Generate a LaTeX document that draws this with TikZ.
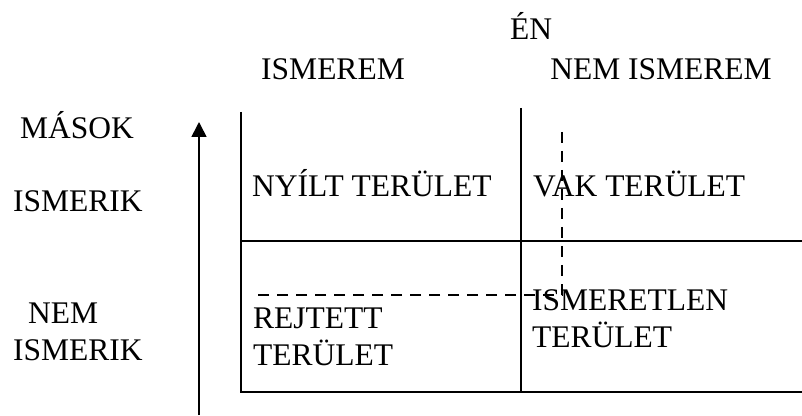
\documentclass[tikz,border=0pt]{standalone}
\usepackage{fontspec}
\setmainfont{Liberation Serif}
\usetikzlibrary{positioning,arrows.meta}

\tikzset{
	lbl/.style={inner sep=0pt,anchor=base west,font=\fontsize{31.5}{37}\selectfont},
	clbl/.style={lbl,anchor=base},
	gridline/.style={line width=2.2pt},
	dashline/.style={line width=1.6pt,dash pattern=on 11pt off 8pt},
}

\begin{document}
\begin{tikzpicture}[x=1pt,y=1pt]
		\useasboundingbox (0,0) rectangle (802,415);
		
		\coordinate (tl) at (241,303);
		\coordinate (tm) at (521,307);
		\coordinate (ml) at (241,174);
		\coordinate (mr) at (802,174);
		\coordinate (bl) at (241,23);
		\coordinate (bm) at (521,23);
		\coordinate (br) at (802,23);
		
		\draw[gridline] (tl) -- (bl) -- (br);
		\draw[gridline] (tm) -- (bm);
		\draw[gridline] (ml) -- (mr);
		
		\coordinate (dtop) at (562,283);
		\coordinate (dcorner) at (562,120);
		\coordinate (dleft) at (253,120);
		\draw[dashline] (dtop) -- (dcorner) -- (dleft);
		
		\coordinate (arrbot) at (199,0);
		\coordinate (arrtop) at (199,293);
		\draw[line width=1.6pt,-{Triangle[length=15pt,width=15pt]}] (arrbot) -- (arrtop);
		
		\node[clbl] (en) at (531,375) {ÉN};
		\node[clbl] (ism) at (333,335) {ISMEREM};
		\node[clbl] (nemism) at (661,335) {NEM ISMEREM};
		
		\node[lbl] (masok) at (20,276) {MÁSOK};
		\node[lbl] (ismerik) at (13,203) {ISMERIK};
		\node[lbl] (nem) at (28,92) {NEM};
		\node[lbl] (ismerik2) at (13,55) {ISMERIK};
		
		\node[lbl] (nyilt) at (252,218) {NYÍLT TERÜLET};
		\node[lbl] (vak) at (533,218) {VAK TERÜLET};
		\node[lbl] (rejt) at (253,87) {REJTETT};
		\node[lbl] (rejt2) at ([yshift=-37pt]rejt.base west) {TERÜLET};
		\node[lbl] (ismeretlen) at (532,105) {ISMERETLEN};
		\node[lbl] (ismeretlen2) at ([yshift=-37pt]ismeretlen.base west) {TERÜLET};
\end{tikzpicture}
\end{document}
